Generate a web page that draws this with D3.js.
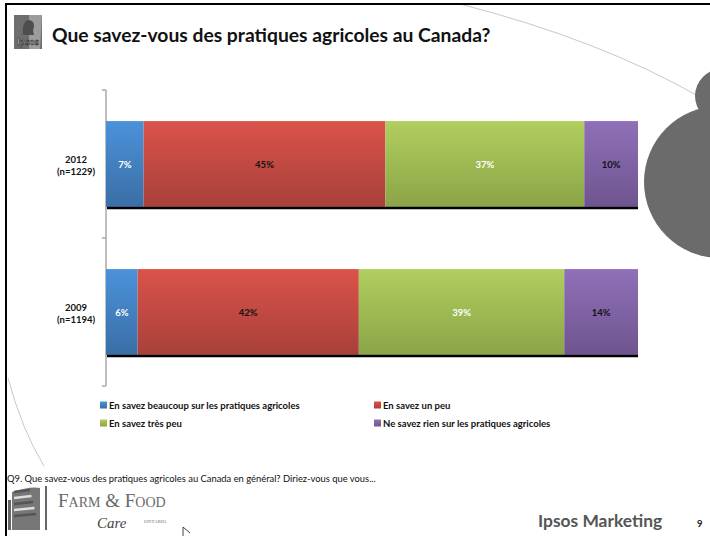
<!DOCTYPE html>
<html>
<head>
<meta charset="utf-8">
<script src="https://d3js.org/d3.v7.min.js"></script>
<style>
    body { margin: 0; background: #fff; }
    svg { display: block; font-family: Lato, "Open Sans", sans-serif; }
    .lbl { font-weight: bold; font-size: 9.5px; }
</style>
</head>
<body>
<div id="chart"></div>
<script>
    var categories = ["2012", "2009"];
    var samples = ["(n=1229)", "(n=1194)"];
    var seriesNames = [
        "En savez beaucoup sur les pratiques agricoles",
        "En savez un peu",
        "En savez très peu",
        "Ne savez rien sur les pratiques agricoles"
    ];
    var beaucoup = [7, 6];
    var unPeu = [45, 42];
    var tresPeu = [37, 39];
    var rien = [10, 14];

    var w = 710, h = 536;
    var keys = ["beaucoup", "unPeu", "tresPeu", "rien"];
    var rows = categories.map(function(c, i) {
        return { cat: c, n: samples[i], beaucoup: beaucoup[i], unPeu: unPeu[i], tresPeu: tresPeu[i], rien: rien[i] };
    });

    // colours: top and bottom of each gradient
    var cols = [["#4b92da", "#3a6ea6"], ["#da534a", "#a8403a"], ["#b0cf5e", "#8ba448"], ["#9070b8", "#6e548f"]];
    var txtCol = ["#fff", "#111", "#fff", "#111"];

    var svg = d3.select("#chart").append("svg").attr("width", w).attr("height", h);
    var defs = svg.append("defs");
    cols.forEach(function(c, i) {
        var g = defs.append("linearGradient").attr("id", "g" + i)
            .attr("x1", 0).attr("y1", 0).attr("x2", 0).attr("y2", 1);
        g.append("stop").attr("offset", "0%").attr("stop-color", c[0]);
        g.append("stop").attr("offset", "100%").attr("stop-color", c[1]);
    });

    // slide decoration
    svg.append("path").attr("d", "M460,4 Q600,40 698,96").attr("fill", "none").attr("stroke", "#c8c8c8");
    svg.append("path").attr("d", "M8,378 Q22,430 44,466").attr("fill", "none").attr("stroke", "#c8c8c8");
    svg.append("circle").attr("cx", 722).attr("cy", 96).attr("r", 27).attr("fill", "#6b6b6b");
    svg.append("circle").attr("cx", 720).attr("cy", 182).attr("r", 76).attr("fill", "#6b6b6b");
    svg.append("line").attr("x1", 6).attr("x2", w).attr("y1", 4).attr("y2", 4).attr("stroke", "#000").attr("stroke-width", 2);
    svg.append("line").attr("x1", 6).attr("x2", 6).attr("y1", 3).attr("y2", h).attr("stroke", "#000").attr("stroke-width", 2);

    // ipsos logo
    var logo = svg.append("g").attr("transform", "translate(14,15)");
    logo.append("rect").attr("width", 28).attr("height", 34).attr("fill", "#6e6e6e");
    logo.append("path").attr("d", "M15,0 L28,0 L26,34 L15,34 Z").attr("fill", "#9c9c9c");
    logo.append("path").attr("d", "M9,20 Q8,12 11,7 Q15,3 19,7 Q21,11 19,15 L20,20 Z").attr("fill", "#4e4e4e");
    logo.append("text").attr("x", 14).attr("y", 30).attr("text-anchor", "middle").attr("font-weight", "bold")
        .attr("font-size", 9.5).attr("fill", "#f0f0f0").attr("stroke", "#222").attr("stroke-width", 0.6).text("Ipsos");

    svg.append("text").attr("x", 52).attr("y", 42).attr("font-size", 19.3).attr("font-weight", "bold")
        .attr("fill", "#111").text("Que savez-vous des pratiques agricoles au Canada?");

    // chart
    var x = d3.scaleLinear().domain([0, 1]).range([106, 638]);
    var y = d3.scaleBand().domain(categories).range([90, 386]).paddingInner(0.42).paddingOuter(0.21);

    var stack = d3.stack().keys(keys).offset(d3.stackOffsetExpand);
    var series = stack(rows);

    // axis
    var axis = svg.append("g").attr("stroke", "#a8a8a8").attr("stroke-width", 1.5);
    axis.append("line").attr("x1", 106).attr("x2", 106).attr("y1", y.range()[0]).attr("y2", y.range()[1]);
    [y.range()[0], (y("2012") + y.bandwidth() + y("2009")) / 2, y.range()[1]].forEach(function(t) {
        axis.append("line").attr("x1", 102).attr("x2", 106).attr("y1", t).attr("y2", t);
    });

    var groups = svg.selectAll("g.series").data(series).enter().append("g").attr("class", "series");
    groups.selectAll("rect").data(function(d) { return d; }).enter().append("rect")
        .attr("x", function(d) { return x(d[0]); })
        .attr("width", function(d) { return x(d[1]) - x(d[0]); })
        .attr("y", function(d) { return y(d.data.cat); })
        .attr("height", y.bandwidth())
        .attr("fill", function(d) { return "url(#g" + keys.indexOf(d3.select(this.parentNode).datum().key) + ")"; });

    groups.each(function(s, si) {
        d3.select(this).selectAll("text").data(s).enter().append("text").attr("class", "lbl")
            .attr("x", function(d) { return (x(d[0]) + x(d[1])) / 2; })
            .attr("y", function(d) { return y(d.data.cat) + y.bandwidth() / 2 + 3.5; })
            .attr("text-anchor", "middle").attr("fill", txtCol[si])
            .text(function(d) { return d.data[s.key] + "%"; });
    });

    // black baselines under bars
    svg.selectAll("line.base").data(categories).enter().append("line").attr("class", "base")
        .attr("x1", 107).attr("x2", x(1))
        .attr("y1", function(d) { return y(d) + y.bandwidth() + 1; })
        .attr("y2", function(d) { return y(d) + y.bandwidth() + 1; })
        .attr("stroke", "#000").attr("stroke-width", 2.5);

    // category labels
    var cl = svg.selectAll("text.cat").data(rows).enter().append("text").attr("class", "lbl cat")
        .attr("text-anchor", "middle").attr("fill", "#111").attr("font-size", 9.5);
    cl.append("tspan").attr("x", 76).attr("y", function(d) { return y(d.cat) + y.bandwidth() / 2 - 1.5; })
        .text(function(d) { return d.cat; });
    cl.append("tspan").attr("x", 76).attr("dy", 12).text(function(d) { return d.n; });

    // legend
    var legPos = [[100, 405], [374, 405], [100, 423], [374, 423]];
    seriesNames.forEach(function(name, i) {
        var g = svg.append("g").attr("transform", "translate(" + legPos[i][0] + "," + legPos[i][1] + ")");
        g.append("rect").attr("y", -3.5).attr("width", 7).attr("height", 7).attr("fill", "url(#g" + i + ")");
        g.append("text").attr("class", "lbl").attr("x", 9).attr("y", 3.5).attr("fill", "#111").text(name);
    });

    // footnote
    svg.append("text").attr("x", 7).attr("y", 482).attr("font-size", 9.4).attr("fill", "#111")
        .text("Q9. Que savez-vous des pratiques agricoles au Canada en général? Diriez-vous que vous...");

    // farm & food care logo
    var ff = svg.append("g");
    ff.append("path").attr("d", "M12,530 L12,492 Q30,486 40,488 L40,530 Z").attr("fill", "#777");
    [490, 496, 502, 508, 514].forEach(function(s, i) {
        ff.append("line").attr("x1", 14).attr("x2", 30 + i * 1.5).attr("y1", s + 2).attr("y2", s)
            .attr("stroke", i % 2 ? "#ddd" : "#555").attr("stroke-width", 2.5);
    });
    ff.append("rect").attr("x", 8).attr("y", 500).attr("width", 3).attr("height", 30).attr("fill", "#666");
    ff.append("rect").attr("x", 45).attr("y", 486).attr("width", 2).attr("height", 44).attr("fill", "#666");
    var ft = ff.append("text").attr("x", 58).attr("y", 507).attr("font-family", "'Liberation Serif', serif").attr("fill", "#6a6a6a");
    ft.append("tspan").attr("font-size", 19).text("F");
    ft.append("tspan").attr("font-size", 14).text("ARM");
    ft.append("tspan").attr("font-size", 19).text(" & F");
    ft.append("tspan").attr("font-size", 14).text("OOD");
    ff.append("text").attr("x", 97).attr("y", 528).attr("font-family", "'Liberation Serif', serif").attr("font-style", "italic")
        .attr("font-size", 15).attr("fill", "#444").text("Care");
    ff.append("text").attr("x", 144).attr("y", 523).attr("font-family", "'Liberation Serif', serif")
        .attr("font-size", 5).attr("fill", "#777").text("ONTARIO");
    svg.append("path").attr("d", "M183,527 L190,533 M183,527 L183,536").attr("stroke", "#444").attr("fill", "none");

    svg.append("text").attr("x", 538).attr("y", 527).attr("font-size", 17.4).attr("font-weight", "bold")
        .attr("fill", "#555").text("Ipsos Marketing");
    svg.append("text").attr("x", 697).attr("y", 527).attr("font-size", 9.5).attr("font-weight", "bold")
        .attr("fill", "#222").text("9");
</script>
</body>
</html>
